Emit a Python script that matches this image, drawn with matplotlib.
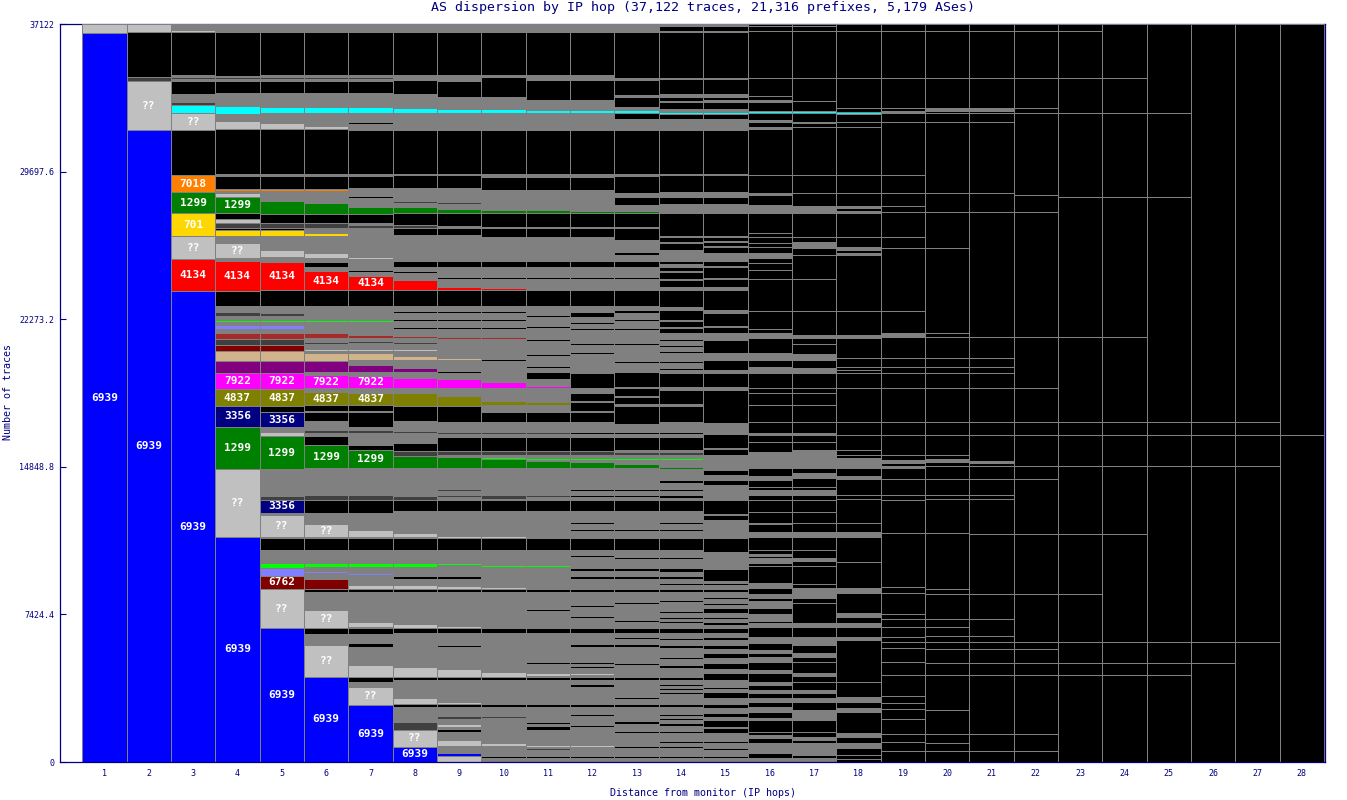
import matplotlib
matplotlib.use('Agg')
import matplotlib.pyplot as plt

# colour code -> fill colour
palette = {
    'B': '#0000ff', 'L': '#c0c0c0', 'G': '#808080', 'K': '#000000',
    'D': '#404040', 'C': '#00ffff', 'O': '#ff8000', 'N': '#008000',
    'Y': '#ffd700', 'R': '#ff0000', 'M': '#ff00ff', 'V': '#808000',
    'A': '#000080', 'P': '#800080', 'T': '#d2b48c', 'W': '#a52a2a',
    'X': '#800000', 'E': '#00ff00', 'S': '#8080ff',
}

# each hop: (colour code, cumulative traces at top of segment, optional AS label), bottom -> top
hop1 = [('B', 36669, '6939'), ('L', 37122)]
hop2 = [('B', 31790, '6939'), ('L', 34254, '??'), ('D', 34456), ('K', 36719), ('L', 37122)]
hop3 = [('B', 23691, '6939'), ('R', 25301, '4134'), ('L', 26458, '??'), ('Y', 27615, '701'),
        ('N', 28671, '1299'), ('O', 29526, '7018'), ('K', 31790), ('L', 32645, '??'), ('C', 33047),
        ('D', 33198), ('G', 33600), ('K', 34254), ('G', 34355), ('D', 34456), ('G', 34556),
        ('K', 36719), ('L', 36820), ('G', 37122)]
hop4 = [('B', 11318, '6939'), ('L', 14738, '??'), ('N', 16851, '1299'), ('A', 17907, '3356'),
        ('V', 18762, '4837'), ('M', 19567, '7922'), ('P', 20170), ('T', 20673), ('X', 20975),
        ('D', 21277), ('W', 21579), ('G', 21780), ('S', 21981), ('G', 22133), ('E', 22233),
        ('G', 22434), ('D', 22635), ('G', 22937), ('K', 23691), ('R', 25200, '4134'), ('G', 25351),
        ('L', 26106, '??'), ('G', 26458), ('Y', 26760), ('K', 26860), ('D', 27112), ('L', 27313),
        ('K', 27615), ('N', 28420, '1299'), ('L', 28621), ('G', 28721), ('O', 28822), ('K', 29476),
        ('G', 29576), ('K', 31840), ('L', 32242), ('G', 32594), ('C', 32997), ('G', 33651),
        ('K', 34254), ('G', 34355), ('D', 34456), ('G', 34506), ('K', 36719), ('G', 37122)]
hop5 = [('B', 6740, '6939'), ('L', 8702, '??'), ('X', 9356, '6762'), ('S', 9758), ('E', 10010),
        ('G', 10664), ('K', 11267), ('G', 11318), ('L', 12424, '??'), ('G', 12525), ('A', 13179, '3356'),
        ('D', 13380), ('G', 14738), ('N', 16398, '1299'), ('L', 16599), ('G', 16851), ('A', 17605, '3356'),
        ('K', 17907), ('V', 18762, '4837'), ('M', 19567, '7922'), ('P', 20170), ('T', 20673),
        ('X', 20975), ('D', 21277), ('W', 21579), ('G', 21780), ('S', 21981), ('G', 22133),
        ('E', 22233), ('G', 22434), ('D', 22585), ('G', 22937), ('K', 23742), ('R', 25150, '4134'),
        ('G', 25402), ('L', 25754), ('G', 26458), ('Y', 26760), ('K', 26860), ('D', 27112),
        ('K', 27564), ('N', 28218), ('G', 28721), ('O', 28822), ('K', 29476), ('G', 29576),
        ('K', 31840), ('L', 32142), ('G', 32645), ('C', 32946), ('G', 33651), ('K', 34254),
        ('G', 34355), ('D', 34456), ('G', 34556), ('K', 36719), ('G', 37122)]
hop6 = [('B', 4276, '6939'), ('L', 5885, '??'), ('G', 6438), ('K', 6740), ('L', 7646, '??'),
        ('G', 8551), ('K', 8702), ('X', 9205), ('G', 9507), ('S', 9608), ('G', 9809), ('E', 10010),
        ('G', 10664), ('K', 11267), ('G', 11318), ('L', 11971, '??'), ('G', 12525), ('K', 13179),
        ('D', 13430), ('G', 14788), ('N', 15945, '1299'), ('K', 16398), ('G', 16549), ('D', 16700),
        ('G', 17152), ('K', 17605), ('G', 17655), ('K', 17957), ('V', 18611, '4837'), ('G', 18812),
        ('M', 19466, '7922'), ('G', 19617), ('P', 20170), ('T', 20573), ('G', 20674), ('L', 20774),
        ('G', 21025), ('D', 21126), ('G', 21327), ('W', 21579), ('G', 22133), ('E', 22233),
        ('G', 22937), ('K', 23742), ('R', 24697, '4134'), ('G', 24899), ('K', 25150), ('G', 25351),
        ('L', 25603), ('G', 26458), ('Y', 26609), ('G', 26860), ('D', 27112), ('K', 27564),
        ('N', 28118), ('G', 28721), ('O', 28822), ('K', 29476), ('G', 29576), ('K', 31840),
        ('L', 31991), ('G', 32645), ('C', 32946), ('G', 33651), ('K', 34254), ('G', 34355),
        ('D', 34456), ('G', 34556), ('K', 36719), ('G', 37122)]
hop7 = [('B', 2867, '6939'), ('L', 3773, '??'), ('G', 4024), ('K', 4276), ('L', 4879), ('G', 5785),
        ('K', 5986), ('G', 6438), ('K', 6740), ('G', 6791), ('L', 7042), ('G', 8551), ('K', 8702),
        ('L', 8903), ('G', 9406), ('S', 9507), ('G', 9809), ('E', 10010), ('G', 10664), ('K', 11267),
        ('G', 11318), ('L', 11670), ('G', 12525), ('K', 13179), ('D', 13430), ('G', 14788),
        ('N', 15694, '1299'), ('K', 15945), ('G', 16549), ('D', 16700), ('G', 16851), ('K', 17605),
        ('G', 17655), ('K', 17957), ('V', 18561, '4837'), ('G', 18812), ('M', 19416, '7922'),
        ('G', 19617), ('P', 19969), ('G', 20221), ('T', 20573), ('G', 20674), ('L', 20774),
        ('G', 21076), ('D', 21176), ('G', 21327), ('W', 21477), ('G', 22133), ('E', 22233),
        ('G', 22937), ('K', 23742), ('R', 24446, '4134'), ('G', 24647), ('K', 24747), ('G', 25301),
        ('L', 25402), ('G', 26860), ('D', 27011), ('G', 27112), ('K', 27564), ('N', 27917),
        ('G', 28370), ('K', 28470), ('G', 28872), ('K', 29476), ('G', 29576), ('K', 31790),
        ('G', 32092), ('K', 32192), ('G', 32645), ('C', 32946), ('G', 33651), ('K', 34254),
        ('G', 34355), ('D', 34456), ('G', 34556), ('K', 36719), ('G', 37122)]
hop8 = [('B', 755, '6939'), ('L', 1610, '??'), ('D', 2012), ('G', 2767), ('K', 2917), ('L', 3219),
        ('G', 4125), ('K', 4276), ('L', 4779), ('G', 6489), ('K', 6740), ('L', 6941), ('G', 8551),
        ('K', 8702), ('L', 8903), ('G', 9205), ('K', 9356), ('G', 9809), ('E', 10010), ('G', 10664),
        ('K', 11267), ('G', 11318), ('L', 11519), ('G', 12625), ('K', 13179), ('D', 13380),
        ('G', 14788), ('N', 15392), ('D', 15643), ('K', 16046), ('G', 16549), ('D', 16650),
        ('G', 17152), ('K', 17907), ('V', 18561), ('G', 18812), ('M', 19316), ('G', 19617),
        ('P', 19818), ('G', 20221), ('T', 20422), ('G', 20674), ('L', 20774), ('G', 21025),
        ('D', 21126), ('G', 21327), ('W', 21428), ('G', 21780), ('K', 21880), ('G', 22183),
        ('K', 22283), ('G', 22585), ('K', 22685), ('G', 22937), ('K', 23742), ('R', 24245),
        ('G', 24596), ('K', 24696), ('G', 24899), ('K', 25200), ('G', 26508), ('K', 26860),
        ('D', 27011), ('K', 27615), ('N', 27917), ('G', 28118), ('D', 28218), ('G', 28872),
        ('K', 29526), ('G', 29576), ('K', 31790), ('G', 32645), ('C', 32896), ('G', 33600),
        ('K', 34305), ('G', 34556), ('K', 36719), ('G', 37122)]
hop9 = [('L', 302), ('B', 453), ('G', 805), ('L', 1107), ('G', 1509), ('K', 1660), ('G', 1761),
        ('L', 1911), ('G', 2163), ('D', 2314), ('G', 2767), ('K', 2917), ('L', 3018), ('G', 4125),
        ('K', 4276), ('L', 4678), ('G', 5785), ('K', 5885), ('G', 6489), ('K', 6740), ('L', 6841),
        ('G', 8551), ('K', 8702), ('L', 8853), ('G', 9205), ('K', 9356), ('G', 9910), ('E', 10010),
        ('G', 10664), ('K', 11267), ('L', 11368), ('G', 12625), ('K', 13179), ('G', 13330),
        ('D', 13430), ('G', 13632), ('D', 13732), ('G', 14788), ('N', 15341), ('G', 15442),
        ('D', 15643), ('K', 16348), ('G', 16499), ('D', 16599), ('G', 17102), ('K', 17907),
        ('V', 18410), ('G', 18812), ('M', 19265), ('G', 19567), ('K', 19667), ('G', 20221),
        ('T', 20321), ('G', 21277), ('W', 21378), ('G', 21780), ('K', 21880), ('G', 22183),
        ('K', 22283), ('G', 22585), ('K', 22685), ('G', 22937), ('K', 23742), ('R', 23893),
        ('G', 24296), ('K', 24396), ('G', 24899), ('K', 25200), ('G', 26508), ('K', 26860),
        ('G', 26960), ('K', 27615), ('N', 27816), ('G', 28068), ('D', 28168), ('G', 28872),
        ('K', 29526), ('G', 29576), ('K', 31790), ('G', 32645), ('C', 32846), ('G', 33450),
        ('K', 34254), ('G', 34556), ('K', 36719), ('G', 37122)]
hop10 = [('G', 201), ('K', 302), ('G', 805), ('L', 956), ('G', 2214), ('D', 2314), ('G', 2767),
         ('K', 2917), ('G', 4125), ('K', 4276), ('L', 4527), ('G', 6489), ('K', 6740), ('G', 8551),
         ('K', 8702), ('L', 8802), ('G', 9809), ('E', 9910), ('G', 10664), ('K', 11267), ('L', 11368),
         ('G', 12625), ('K', 13179), ('G', 13229), ('D', 13430), ('G', 14788), ('N', 15241),
         ('E', 15341), ('G', 15442), ('D', 15643), ('K', 16348), ('G', 16499), ('D', 16599),
         ('G', 17102), ('K', 17605), ('G', 17957), ('V', 18159), ('G', 18812), ('M', 19114),
         ('G', 20171), ('K', 20271), ('G', 21277), ('W', 21378), ('G', 21780), ('K', 21880),
         ('G', 22183), ('K', 22283), ('G', 22585), ('K', 22685), ('G', 22937), ('K', 23742),
         ('R', 23842), ('G', 24296), ('K', 24396), ('G', 24899), ('K', 25200), ('G', 26408),
         ('K', 26860), ('G', 26910), ('K', 27615), ('N', 27766), ('G', 28772), ('K', 29426),
         ('G', 29576), ('K', 31790), ('G', 32645), ('C', 32846), ('G', 33450), ('K', 34456),
         ('G', 34556), ('K', 36719), ('G', 37122)]
hop11 = [('G', 201), ('K', 302), ('G', 604), ('D', 704), ('G', 755), ('L', 855), ('G', 1610),
         ('K', 1811), ('G', 1912), ('K', 2012), ('G', 2767), ('K', 2917), ('G', 4125), ('K', 4276),
         ('G', 4326), ('L', 4477), ('G', 4930), ('K', 5031), ('G', 6489), ('K', 6740), ('G', 7596),
         ('K', 7697), ('G', 8551), ('K', 8702), ('G', 9809), ('E', 9910), ('G', 10664), ('K', 11267),
         ('G', 12625), ('K', 13179), ('G', 13330), ('D', 13430), ('G', 14788), ('N', 15140),
         ('G', 15191), ('E', 15291), ('G', 15442), ('D', 15643), ('K', 16348), ('G', 16499),
         ('D', 16599), ('G', 17102), ('K', 17605), ('G', 17957), ('V', 18109), ('G', 18812),
         ('M', 18913), ('G', 19265), ('K', 19617), ('G', 19819), ('K', 19919), ('G', 20422),
         ('K', 20522), ('G', 21177), ('K', 21277), ('G', 21830), ('K', 21930), ('G', 22384),
         ('K', 22484), ('G', 22937), ('K', 23742), ('G', 24296), ('K', 24396), ('G', 24899),
         ('K', 25200), ('G', 26408), ('K', 26860), ('G', 26910), ('K', 27615), ('N', 27766),
         ('G', 28772), ('K', 29426), ('G', 29576), ('K', 31790), ('G', 32645), ('C', 32796),
         ('G', 33299), ('K', 34305), ('G', 34556), ('K', 36719), ('G', 37122)]
hop12 = [('G', 201), ('K', 302), ('G', 755), ('L', 855), ('G', 1760), ('K', 1861), ('G', 2314),
         ('K', 2415), ('G', 2767), ('K', 2917), ('G', 3773), ('K', 3923), ('G', 4125), ('K', 4276),
         ('G', 4377), ('L', 4477), ('G', 4729), ('K', 4829), ('G', 4930), ('K', 5031), ('G', 5785),
         ('K', 5935), ('G', 6489), ('K', 6740), ('G', 7244), ('K', 7344), ('G', 7797), ('K', 7898),
         ('G', 8551), ('K', 8702), ('G', 9205), ('K', 9356), ('G', 9608), ('K', 9758), ('G', 10312),
         ('K', 10412), ('G', 10664), ('K', 11267), ('G', 11620), ('K', 11720), ('G', 11972),
         ('K', 12072), ('G', 12625), ('K', 13179), ('G', 13330), ('K', 13430), ('G', 13632),
         ('K', 13732), ('G', 14788), ('N', 15090), ('G', 15191), ('E', 15291), ('G', 15442),
         ('D', 15643), ('K', 16348), ('G', 16499), ('K', 16599), ('G', 17102), ('K', 17605),
         ('G', 17655), ('K', 18109), ('G', 18159), ('K', 18561), ('G', 18812), ('K', 19567),
         ('G', 20523), ('K', 20623), ('G', 20975), ('K', 21075), ('G', 21730), ('K', 21830),
         ('G', 22032), ('K', 22132), ('G', 22384), ('K', 22635), ('G', 22937), ('K', 23742),
         ('G', 24296), ('K', 24396), ('G', 24899), ('K', 25200), ('G', 26408), ('K', 26860),
         ('G', 26910), ('K', 27615), ('N', 27716), ('G', 28772), ('K', 29426), ('G', 29576),
         ('K', 31790), ('G', 32645), ('C', 32796), ('G', 33299), ('K', 34305), ('G', 34556),
         ('K', 36719), ('G', 37122)]
hop13 = [('G', 201), ('K', 302), ('G', 705), ('K', 805), ('G', 1459), ('K', 1560), ('G', 1911),
         ('K', 2062), ('G', 2767), ('K', 2917), ('G', 3169), ('K', 3269), ('G', 4125), ('K', 4276),
         ('G', 4880), ('K', 4980), ('G', 5785), ('K', 5935), ('G', 6187), ('K', 6288), ('G', 6489),
         ('K', 6740), ('G', 7042), ('K', 7142), ('G', 7948), ('K', 8048), ('G', 8551), ('K', 8702),
         ('G', 9205), ('K', 9356), ('G', 9608), ('K', 9758), ('G', 10211), ('K', 10311), ('G', 10664),
         ('K', 11267), ('G', 11620), ('K', 11720), ('G', 12625), ('K', 13179), ('G', 13330),
         ('K', 13430), ('G', 13632), ('K', 13732), ('G', 14788), ('N', 14989), ('G', 15191),
         ('E', 15291), ('G', 15442), ('D', 15593), ('G', 15694), ('K', 16348), ('G', 16499),
         ('K', 16599), ('G', 17002), ('K', 17907), ('G', 18007), ('K', 18360), ('G', 18410),
         ('K', 18812), ('G', 18862), ('K', 19617), ('G', 20070), ('K', 20170), ('G', 20975),
         ('K', 21075), ('G', 21730), ('K', 21830), ('G', 22183), ('K', 22283), ('G', 22585),
         ('K', 22735), ('G', 22937), ('K', 23742), ('G', 24296), ('K', 24396), ('G', 24899),
         ('K', 25200), ('G', 25502), ('K', 25653), ('G', 26257), ('K', 26860), ('G', 26910),
         ('K', 27615), ('N', 27716), ('G', 28017), ('K', 28420), ('G', 28621), ('K', 29476),
         ('G', 29576), ('K', 31790), ('G', 32343), ('K', 32645), ('C', 32796), ('G', 32946),
         ('K', 33450), ('G', 33550), ('K', 34305), ('G', 34406), ('K', 36719), ('G', 37122)]
hop14 = [('G', 201), ('K', 302), ('G', 705), ('K', 805), ('G', 956), ('K', 1056), ('G', 1459),
         ('K', 1559), ('G', 1811), ('K', 1962), ('G', 2113), ('K', 2213), ('G', 2314), ('K', 2414),
         ('G', 2767), ('K', 2917), ('G', 3421), ('K', 3521), ('G', 3622), ('K', 3722), ('G', 3823),
         ('K', 3923), ('G', 4125), ('K', 4276), ('G', 4729), ('K', 4880), ('G', 5181), ('K', 5282),
         ('G', 5734), ('K', 5885), ('G', 6137), ('K', 6238), ('G', 6489), ('K', 6740), ('G', 6992),
         ('K', 7092), ('G', 7194), ('K', 7294), ('G', 7495), ('K', 7596), ('G', 8048), ('K', 8150),
         ('G', 8551), ('K', 8702), ('G', 8903), ('K', 9004), ('G', 9205), ('K', 9356), ('G', 9557),
         ('K', 9758), ('G', 10211), ('K', 10311), ('G', 10664), ('K', 11267), ('G', 11620),
         ('K', 11720), ('G', 11972), ('K', 12072), ('G', 12625), ('K', 13179), ('G', 13279),
         ('K', 13430), ('G', 13632), ('K', 13732), ('G', 14034), ('K', 14185), ('G', 14738),
         ('N', 14839), ('G', 15191), ('E', 15291), ('G', 15442), ('D', 15593), ('G', 15694),
         ('K', 16348), ('G', 16499), ('K', 16599), ('G', 17102), ('K', 17907), ('G', 18007),
         ('K', 18711), ('G', 18862), ('K', 19567), ('G', 19718), ('K', 19818), ('G', 20070),
         ('K', 20170), ('G', 20573), ('K', 20673), ('G', 20874), ('K', 20974), ('G', 21177),
         ('K', 21277), ('G', 21579), ('K', 21830), ('G', 21880), ('K', 22183), ('G', 22233),
         ('K', 22736), ('G', 22887), ('K', 23742), ('G', 23893), ('K', 24245), ('G', 24295),
         ('K', 24647), ('G', 24697), ('K', 24899), ('G', 25050), ('K', 25200), ('G', 25754),
         ('K', 26106), ('G', 26157), ('K', 26408), ('G', 26458), ('K', 27615), ('G', 28068),
         ('K', 28420), ('G', 28671), ('K', 29526), ('G', 29576), ('K', 31790), ('G', 32343),
         ('K', 32595), ('C', 32695), ('G', 32846), ('K', 33198), ('G', 33248), ('K', 33450),
         ('G', 33600), ('K', 34355), ('G', 34405), ('K', 36719), ('G', 36769), ('K', 37021),
         ('G', 37122)]
hop15 = [('G', 201), ('K', 302), ('G', 604), ('K', 704), ('G', 956), ('K', 1056), ('G', 1459),
         ('K', 1710), ('G', 1760), ('K', 2113), ('G', 2264), ('K', 2465), ('G', 2716), ('K', 2917),
         ('G', 3219), ('K', 3521), ('G', 3672), ('K', 3773), ('G', 4125), ('K', 4477), ('G', 4678),
         ('K', 4980), ('G', 5232), ('K', 5483), ('G', 5684), ('K', 5885), ('G', 6137), ('K', 6288),
         ('G', 6489), ('K', 6740), ('G', 6891), ('K', 7042), ('G', 7194), ('K', 7294), ('G', 7495),
         ('K', 7747), ('G', 7898), ('K', 7998), ('G', 8200), ('K', 8300), ('G', 8551), ('K', 8702),
         ('G', 8903), ('K', 9004), ('G', 9104), ('K', 9708), ('G', 10563), ('K', 11267),
         ('G', 12173), ('K', 12424), ('G', 12474), ('K', 13179), ('G', 13934), ('K', 14185),
         ('G', 14436), ('K', 14688), ('G', 15442), ('K', 15745), ('G', 15795), ('K', 16498),
         ('G', 17052), ('K', 18711), ('G', 18862), ('K', 19567), ('G', 19718), ('K', 20221),
         ('G', 20573), ('K', 21227), ('G', 21579), ('K', 21880), ('G', 21930), ('K', 22585),
         ('G', 22736), ('K', 23742), ('G', 23893), ('K', 24295), ('G', 24345), ('K', 24899),
         ('G', 24949), ('K', 25200), ('G', 25603), ('K', 25905), ('G', 25955), ('K', 26157),
         ('G', 26207), ('K', 26408), ('G', 26458), ('K', 27615), ('G', 28068), ('K', 28420),
         ('G', 28671), ('K', 29526), ('G', 29576), ('K', 31790), ('G', 32343), ('K', 32595),
         ('C', 32695), ('G', 32846), ('K', 33198), ('G', 33299), ('K', 33450), ('G', 33600),
         ('K', 34355), ('G', 34405), ('K', 36719), ('G', 36769), ('K', 37021), ('G', 37122)]
hop16 = [('G', 201), ('K', 453), ('G', 956), ('K', 1207), ('G', 1358), ('K', 1509), ('K', 2113),
         ('G', 2213), ('K', 2515), ('G', 2767), ('K', 3018), ('G', 3219), ('K', 3471), ('G', 3622),
         ('K', 3873), ('G', 4024), ('K', 4478), ('G', 4628), ('K', 5031), ('G', 5282), ('K', 5483),
         ('G', 5634), ('K', 5986), ('G', 6288), ('K', 6791), ('G', 6992), ('K', 7092), ('G', 7445),
         ('K', 7747), ('G', 8098), ('K', 8250), ('G', 8450), ('K', 8753), ('G', 9004), ('K', 9859),
         ('K', 10010), ('G', 10261), ('K', 10362), ('G', 10463), ('K', 10664), ('K', 11318),
         ('G', 11569), ('K', 11971), ('G', 12022), ('K', 12575), ('K', 13179), ('K', 13430),
         ('G', 13682), ('K', 13833), ('K', 14185), ('G', 14386), ('K', 14788), ('G', 15593),
         ('K', 16096), ('K', 16448), ('G', 16549), ('K', 17102), ('K', 17957), ('K', 18561),
         ('K', 18812), ('K', 19567), ('G', 19868), ('K', 20221), ('G', 20573), ('K', 21327),
         ('G', 21579), ('K', 21780), ('K', 22685), ('K', 24295), ('K', 24748), ('K', 25083),
         ('K', 25351), ('G', 25603), ('K', 25905), ('K', 26106), ('K', 26408), ('K', 26594),
         ('K', 27615), ('G', 28017), ('K', 28520), ('G', 28605), ('K', 29526), ('K', 31840),
         ('G', 31941), ('K', 32192), ('G', 32293), ('K', 32645), ('C', 32745), ('K', 33198),
         ('G', 33299), ('K', 33500), ('K', 34405), ('K', 36784), ('K', 37021), ('K', 37122)]
hop17 = [('G', 201), ('K', 352), ('G', 956), ('K', 1107), ('G', 1258), ('K', 1509), ('K', 2113),
         ('G', 2616), ('K', 3018), ('G', 3219), ('K', 3471), ('G', 3622), ('K', 4024), ('K', 4326),
         ('G', 4477), ('K', 5031), ('K', 5282), ('G', 5483), ('K', 5885), ('G', 6288), ('K', 6791),
         ('G', 6992), ('K', 7998), ('K', 8250), ('G', 8752), ('K', 8953), ('K', 9859), ('K', 10110),
         ('G', 10261), ('K', 10664), ('K', 11318), ('G', 11569), ('K', 12022), ('K', 12575),
         ('K', 13179), ('K', 13430), ('G', 13682), ('K', 13833), ('K', 14285), ('G', 14537),
         ('K', 14788), ('G', 15694), ('K', 16096), ('K', 16448), ('G', 16549), ('K', 17102),
         ('K', 17957), ('K', 18561), ('K', 18812), ('K', 19567), ('G', 19818), ('K', 20221),
         ('G', 20522), ('K', 21025), ('K', 21327), ('G', 21478), ('K', 22685), ('K', 24295),
         ('K', 25502), ('K', 25854), ('G', 26157), ('K', 26408), ('K', 27615), ('G', 27967),
         ('K', 28621), ('K', 29526), ('K', 31941), ('K', 32142), ('G', 32192), ('K', 32645),
         ('C', 32745), ('K', 33248), ('K', 34405), ('K', 36769), ('K', 37021), ('K', 37122)]
hop18 = [('K', 151), ('K', 352), ('K', 704), ('G', 956), ('K', 1258), ('G', 1459), ('K', 2515),
         ('G', 2716), ('K', 3018), ('G', 3270), ('K', 4024), ('K', 6137), ('G', 6288), ('K', 6791),
         ('G', 6992), ('K', 7294), ('G', 7495), ('K', 8500), ('G', 8752), ('K', 10060), ('K', 11318),
         ('G', 11569), ('K', 12022), ('K', 13229), ('K', 13430), ('K', 14235), ('G', 14386),
         ('K', 14788), ('G', 15291), ('K', 15442), ('K', 15694), ('K', 16448), ('K', 17102),
         ('K', 18812), ('K', 19567), ('K', 19718), ('K', 19868), ('K', 20321), ('K', 21327),
         ('G', 21478), ('K', 22685), ('K', 25502), ('G', 25603), ('K', 25754), ('G', 25905),
         ('K', 26408), ('K', 27615), ('G', 27716), ('K', 27866), ('G', 27967), ('K', 28621),
         ('K', 29526), ('K', 31941), ('K', 32192), ('K', 32595), ('C', 32695), ('K', 32896),
         ('K', 34405), ('K', 36769), ('K', 37122)]
hop19 = [('K', 553), ('K', 1006), ('K', 1408), ('K', 2163), ('K', 2666), ('K', 2968), ('K', 3320),
         ('K', 4376), ('K', 5030), ('K', 5734), ('K', 6036), ('K', 6288), ('K', 6791), ('K', 7193),
         ('K', 7444), ('K', 8500), ('K', 8803), ('K', 11519), ('K', 13179), ('K', 13430), ('K', 14235),
         ('K', 14788), ('G', 14889), ('K', 15040), ('G', 15191), ('K', 15442), ('K', 16448),
         ('K', 17102), ('K', 18812), ('K', 19567), ('K', 19868), ('K', 20321), ('K', 21378),
         ('G', 21579), ('K', 22685), ('K', 25854), ('K', 26408), ('K', 27665), ('K', 27967),
         ('K', 28621), ('K', 29526), ('K', 32192), ('K', 32645), ('G', 32746), ('K', 32896),
         ('K', 34405), ('K', 36769), ('K', 37122)]
hop20 = [('K', 553), ('K', 956), ('K', 1408), ('K', 2616), ('K', 4376), ('K', 4980), ('K', 5684),
         ('K', 6036), ('K', 6338), ('K', 6791), ('K', 7193), ('K', 8450), ('K', 8702), ('K', 11519),
         ('K', 13229), ('K', 13430), ('K', 14235), ('K', 14889), ('K', 15090), ('G', 15241),
         ('K', 15442), ('K', 16448), ('K', 17102), ('K', 18812), ('K', 19567), ('K', 19868),
         ('K', 20321), ('K', 21378), ('K', 21579), ('K', 25854), ('K', 27665), ('K', 28621),
         ('K', 32192), ('K', 32645), ('K', 32745), ('G', 32896), ('K', 34405), ('K', 36784),
         ('K', 37122)]
hop21 = [('K', 553), ('K', 1408), ('K', 4376), ('K', 4980), ('K', 5684), ('K', 6036), ('K', 6338),
         ('K', 7193), ('K', 8450), ('K', 11468), ('K', 13229), ('K', 13430), ('K', 14235),
         ('K', 14889), ('K', 15040), ('G', 15140), ('K', 16448), ('K', 17102), ('K', 18812),
         ('K', 19567), ('K', 19868), ('K', 20321), ('K', 21378), ('K', 27665), ('K', 28621),
         ('K', 32192), ('K', 32645), ('K', 32745), ('G', 32896), ('K', 34405), ('K', 36784),
         ('K', 37122)]
hop22 = [('K', 553), ('K', 1408), ('K', 4376), ('K', 4980), ('K', 5684), ('K', 6036), ('K', 8450),
         ('K', 11468), ('K', 14235), ('K', 14889), ('K', 16448), ('K', 17102), ('K', 18812),
         ('K', 21378), ('K', 27665), ('K', 28520), ('K', 32645), ('K', 32896), ('K', 34405),
         ('K', 36784), ('K', 37122)]
hop23 = [('K', 4376), ('K', 4980), ('K', 6036), ('K', 8450), ('K', 11468), ('K', 14889), ('K', 16448),
         ('K', 17102), ('K', 21378), ('K', 28420), ('K', 32645), ('K', 34405), ('K', 36784),
         ('K', 37122)]
hop24 = [('K', 4376), ('K', 4980), ('K', 6036), ('K', 11468), ('K', 14889), ('K', 16448), ('K', 17102),
         ('K', 21378), ('K', 28420), ('K', 32645), ('K', 34405), ('K', 37122)]
hop25 = [('K', 4376), ('K', 4980), ('K', 6036), ('K', 14889), ('K', 16448), ('K', 17102), ('K', 28420),
         ('K', 32645), ('K', 37122)]
hop26 = [('K', 4980), ('K', 6036), ('K', 14889), ('K', 16448), ('K', 17102), ('K', 37122)]
hop27 = [('K', 6036), ('K', 14889), ('K', 16448), ('K', 17102), ('K', 37122)]
hop28 = [('K', 16448), ('K', 37122)]

hops = [hop1, hop2, hop3, hop4, hop5, hop6, hop7, hop8, hop9, hop10, hop11, hop12, hop13, hop14,
        hop15, hop16, hop17, hop18, hop19, hop20, hop21, hop22, hop23, hop24, hop25, hop26, hop27, hop28]

total_traces = 37122
ytick_vals = [0, 7424.4, 14848.8, 22273.2, 29697.6, 37122]
ytick_labels = ['0', '7424.4', '14848.8', '22273.2', '29697.6', '37122']
title = 'AS dispersion by IP hop (37,122 traces, 21,316 prefixes, 5,179 ASes)'

navy = '#000080'
mono = 'DejaVu Sans Mono'

fig = plt.figure(figsize=(13.47, 8.0), dpi=100)
ax = fig.add_axes([60 / 1347, 38 / 800, 1265 / 1347, 738 / 800])

for hop, segs in enumerate(hops, start=1):
    prev = 0
    heights, bottoms, colors, labels = [], [], [], []
    for seg in segs:
        heights.append(seg[1] - prev)
        bottoms.append(prev)
        colors.append(palette[seg[0]])
        if len(seg) > 2:
            labels.append((prev + seg[1]) / 2.0)
            ax.text(hop, (prev + seg[1]) / 2.0, seg[2], ha='center', va='center', color='white',
                    fontsize=8, fontweight='bold', family=mono, zorder=5)
        prev = seg[1]
    ax.bar([hop] * len(heights), heights, bottom=bottoms, width=1.0, color=colors,
           edgecolor='#808080', linewidth=0.72, antialiased=False, zorder=2)

ax.set_xlim(0, 28.52)
ax.set_ylim(0, total_traces)
ax.set_xticks(range(1, 29))
ax.set_xticklabels([str(i) for i in range(1, 29)], family=mono, fontsize=6, color=navy)
ax.set_yticks(ytick_vals)
ax.set_yticklabels(ytick_labels, family=mono, fontsize=6, color=navy)
ax.tick_params(axis='x', length=0, pad=5)
ax.tick_params(axis='y', direction='in', length=4, color=navy, pad=4)
for name, sp in ax.spines.items():
    sp.set_color(navy)
    sp.set_linewidth(0.9)
ax.spines['top'].set_zorder(1)

fig.text(703 / 1347, 1 - 8 / 800, title, ha='center', va='center', fontsize=9.5, family=mono, color=navy)
fig.text(703 / 1347, 7 / 800, 'Distance from monitor (IP hops)', ha='center', va='center',
         fontsize=7.2, family=mono, color=navy)
fig.text(8 / 1347, 1 - 392 / 800, 'Number of traces', ha='center', va='center', rotation=90,
         fontsize=7.2, family=mono, color=navy)

fig.savefig('out.png', dpi=100)
